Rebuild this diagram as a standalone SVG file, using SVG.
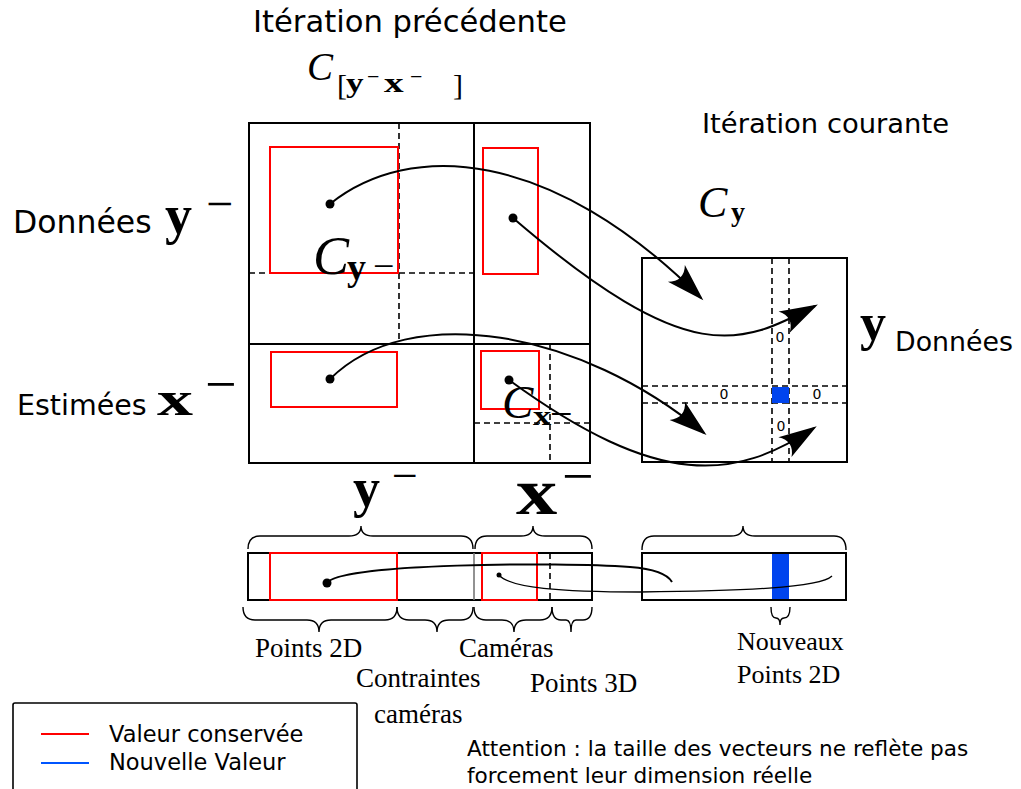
<svg xmlns="http://www.w3.org/2000/svg" width="1021" height="789" viewBox="0 0 1021 789">
<defs>
<style>
.box{fill:none;stroke:#000;stroke-width:2}
.red{fill:none;stroke:#ff0000;stroke-width:2}
.dash{fill:none;stroke:#000;stroke-width:1.6;stroke-dasharray:6,4}
.brace{fill:none;stroke:#000;stroke-width:1.4}
.conn{fill:none;stroke:#000;stroke-width:2}
.sans{font-family:"DejaVu Sans",sans-serif;fill:#000}
.serif{font-family:"Liberation Serif","Times New Roman",serif;fill:#000}
.mb{font-family:"Liberation Serif","Times New Roman",serif;font-weight:bold;fill:#000}
.mi{font-family:"Liberation Serif","Times New Roman",serif;font-style:italic;fill:#000}
.zero{font-family:"DejaVu Sans",sans-serif;font-size:14px;fill:#000;text-anchor:middle}
</style>
<marker id="ah" markerUnits="userSpaceOnUse" markerWidth="50" markerHeight="50" viewBox="-40 -20 46 40" refX="0" refY="0" orient="auto" overflow="visible">
<path d="M3,0 L-32,-11 C-25,-4 -25,4 -32,11 Z" fill="#000"/>
</marker>
</defs>
<rect width="1021" height="789" fill="#fff"/>

<g id="titles">
<text class="sans" x="253" y="32" font-size="30.6">Itération précédente</text>
<text class="sans" x="702" y="133" font-size="27.4">Itération courante</text>
</g>

<g id="matrix-prev">
<rect class="box" x="249" y="123" width="341" height="340"/>
<line class="box" x1="474" y1="123" x2="474" y2="463"/>
<line class="box" x1="249" y1="344" x2="590" y2="344"/>
<line class="dash" x1="399" y1="123" x2="399" y2="344"/>
<line class="dash" x1="249" y1="273" x2="474" y2="273"/>
<line class="dash" x1="474" y1="423" x2="590" y2="423"/>
<line class="dash" x1="550" y1="344" x2="550" y2="463"/>
<rect class="red" x="270" y="147" width="128" height="126"/>
<rect class="red" x="483" y="148" width="55" height="126"/>
<rect class="red" x="271" y="352" width="126" height="55"/>
<rect class="red" x="481" y="351" width="58" height="58"/>
<text class="mi" x="307" y="80" font-size="39">C</text>
<text class="serif" x="337" y="95" font-size="30">[</text>
<text class="mb" x="346" y="92" font-size="28" transform="translate(346 92) scale(1.25 1) translate(-346 -92)">y</text>
<text class="serif" x="367" y="84" font-size="22">−</text>
<text class="mb" x="384" y="92" font-size="28" transform="translate(384 92) scale(1.4 1) translate(-384 -92)">x</text>
<text class="serif" x="410" y="84" font-size="22">−</text>
<text class="serif" x="453" y="95" font-size="30">]</text>
<text class="mi" x="313" y="274" font-size="54">C</text>
<text class="mb" x="347" y="280" font-size="38">y</text>
<text class="serif" x="373" y="279" font-size="38">−</text>
<text class="mi" x="502" y="418" font-size="47">C</text>
<text class="mb" x="533" y="425" font-size="28" transform="translate(533 425) scale(1.3 1) translate(-533 -425)">x</text>
<text class="serif" x="550" y="427" font-size="40">−</text>
</g>

<g id="row-col-labels">
<text class="sans" x="13" y="233" font-size="31.5">Données</text>
<text class="mb" x="165" y="233" font-size="54">y</text>
<text class="serif" x="206" y="220" font-size="48">−</text>
<text class="sans" x="17" y="415" font-size="28.5">Estimées</text>
<text class="mb" x="157" y="415" font-size="48" transform="translate(157 415) scale(1.5 1) translate(-157 -415)">x</text>
<text class="serif" x="205" y="403" font-size="56">−</text>
<text class="mb" x="353" y="506" font-size="54">y</text>
<text class="serif" x="392" y="491" font-size="46">−</text>
<text class="mb" x="516" y="514" font-size="66" transform="translate(516 514) scale(1.25 1) translate(-516 -514)">x</text>
<text class="serif" x="562" y="495" font-size="56">−</text>
</g>

<g id="matrix-cur">
<text class="mi" x="698" y="217" font-size="44">C</text>
<text class="mb" x="731" y="221" font-size="28">y</text>
<rect class="box" x="642" y="258" width="205" height="204"/>
<line class="dash" x1="772" y1="258" x2="772" y2="462"/>
<line class="dash" x1="789" y1="258" x2="789" y2="462"/>
<line class="dash" x1="642" y1="386" x2="848" y2="386"/>
<line class="dash" x1="642" y1="403" x2="848" y2="403"/>
<rect x="772" y="387" width="17" height="16" fill="#0044ee"/>
<text class="zero" x="780" y="342">0</text>
<text class="zero" x="724" y="399">0</text>
<text class="zero" x="817" y="399">0</text>
<text class="zero" x="781" y="431">0</text>
<text class="mb" x="860" y="340" font-size="52">y</text>
<text class="sans" x="895" y="351" font-size="26.8">Données</text>
</g>

<g id="vector-prev">
<rect class="box" x="248" y="553" width="344" height="47"/>
<line x1="474" y1="553" x2="474" y2="600" stroke="#777" stroke-width="1.6"/>
<rect class="red" x="270" y="553" width="127" height="47"/>
<rect class="red" x="482" y="553" width="55" height="47"/>
<line class="dash" x1="550" y1="553" x2="550" y2="600"/>
<path class="brace" d="M248,549 Q248,536 260,536 L349,536 Q361,536 361,526 Q361,536 373,536 L461,536 Q473,536 473,549"/>
<path class="brace" d="M475,549 Q475,536 487,536 L521,536 Q533,536 533,526 Q533,536 545,536 L580,536 Q592,536 592,549"/>
<path class="brace" d="M243,607 Q243,620 255,620 L307,620 Q319,620 319,632 Q319,620 331,620 L385,620 Q397,620 397,607"/>
<path class="brace" d="M397,607 Q397,620 409,620 L425,620 Q437,620 437,632 Q437,620 449,620 L461,620 Q473,620 473,607"/>
<path class="brace" d="M474,607 Q474,620 486,620 L502,620 Q514,620 514,632 Q514,620 526,620 L540,620 Q552,620 552,607"/>
<path class="brace" d="M552,607 Q552,620 561,620 L566,620 Q571,620 571,632 Q571,620 576,620 L583,620 Q592,620 592,607"/>
<text class="serif" x="255" y="657" font-size="27">Points 2D</text>
<text class="serif" x="356" y="687" font-size="27">Contraintes</text>
<text class="serif" x="374" y="723" font-size="27">caméras</text>
<text class="serif" x="459" y="657" font-size="27">Caméras</text>
<text class="serif" x="530" y="692" font-size="27">Points 3D</text>
</g>

<g id="vector-cur">
<rect class="box" x="642" y="553" width="204" height="47"/>
<rect x="772" y="554" width="17" height="45" fill="#0044ee"/>
<path class="brace" d="M642,550 Q642,536 654,536 L731,536 Q743,536 743,526 Q743,536 755,536 L834,536 Q846,536 846,550"/>
<path class="brace" d="M771,607 Q771,618 776,618 Q780,618 780,625 Q780,618 784,618 Q790,618 790,607"/>
<text class="serif" x="737" y="650" font-size="26">Nouveaux</text>
<text class="serif" x="737" y="683" font-size="26">Points 2D</text>
</g>

<g id="connectors">
<circle cx="330" cy="204" r="4.5"/>
<circle cx="513" cy="218" r="4.5"/>
<circle cx="330" cy="379" r="4.5"/>
<circle cx="509" cy="380" r="4.5"/>
<circle cx="327" cy="583" r="4.5"/>
<circle cx="499" cy="575" r="2.5"/>
<path class="conn" d="M330,204 C410,140 551,148 701,298" marker-end="url(#ah)"/>
<path class="conn" d="M513,218 C690,370 740,345 815,306" marker-end="url(#ah)"/>
<path class="conn" d="M330,379 C410,300 580,330 704,433" marker-end="url(#ah)"/>
<path class="conn" d="M509,380 C660,490 735,480 814,428" marker-end="url(#ah)"/>
<path class="conn" d="M327,583 C340,563 560,562 630,567 C655,569 668,575 672,582"/>
<path fill="none" stroke="#000" stroke-width="1.3" d="M499,575 C510,588 560,592 640,592 C740,591 820,588 832,576"/>
</g>

<g id="legend">
<rect x="13" y="703" width="344" height="100" rx="2" fill="#fff" stroke="#000" stroke-width="1.6"/>
<line x1="41" y1="734" x2="89" y2="734" stroke="#ff0000" stroke-width="2"/>
<line x1="41" y1="763" x2="89" y2="763" stroke="#0055ff" stroke-width="2"/>
<text class="sans" x="109" y="742" font-size="22.5">Valeur conservée</text>
<text class="sans" x="109" y="770" font-size="22.5">Nouvelle Valeur</text>
</g>

<g id="note">
<text class="sans" x="467" y="756" font-size="21.6">Attention : la taille des vecteurs ne reflète pas</text>
<text class="sans" x="467" y="783" font-size="21.6">forcement leur dimension réelle</text>
</g>
</svg>
